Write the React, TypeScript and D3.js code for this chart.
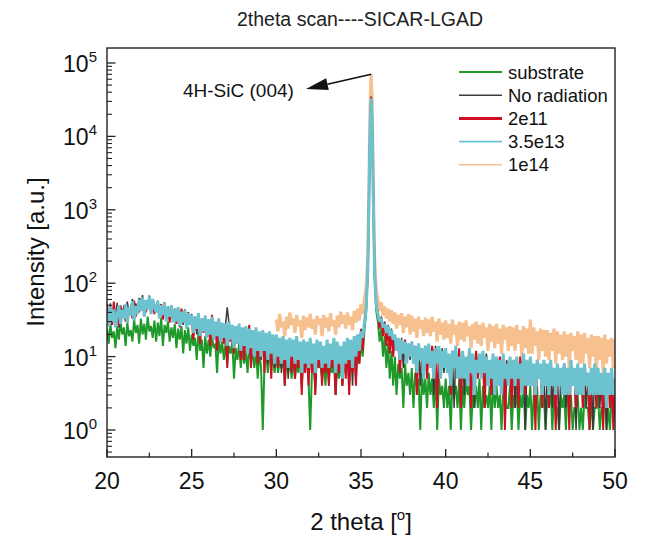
import React from "react";
import * as d3 from "d3";

// ---- scan angles (2θ, degrees): instrument step grid ----
const anglesLow = d3.range(200, 354).map((i) => i / 10); // 20.0 … 35.3
const anglesPeak = d3.range(0, 11).map((i) => +(35.35 + i * 0.05).toFixed(2)); // 35.35 … 35.85
const anglesHigh = d3.range(359, 501).map((i) => i / 10); // 35.9 … 50.0
const angles = [...anglesLow, ...anglesPeak, ...anglesHigh];
const orangeStart = 30.0;

// ---- intensities (a.u.) ----
const substrate = [
  24, 15, 28, 18, 22, 13, 26, 17, 30, 20,
  25, 14, 29, 19, 23, 16, 32, 21, 27, 15,
  33, 20, 28, 17, 35, 22, 26, 18, 31, 16,
  29, 19, 34, 14, 27, 21, 30, 16, 25, 18,
  28, 13, 24, 17, 26, 11, 23, 15, 25, 12,
  20, 14, 18, 9, 22, 12, 17, 7, 19, 11,
  17, 10, 19, 13, 15, 6, 18, 11, 16, 9,
  15, 8, 14, 11, 16, 5, 13, 9, 15, 7,
  13, 8, 12, 6, 14, 9, 11, 7, 13, 5,
  12, 7, 1, 8, 11, 6, 12, 9, 10, 6,
  11, 6, 9, 7, 10, 4, 11, 6, 9, 5,
  10, 5, 8, 6, 11, 4, 9, 7, 10, 5,
  1, 6, 9, 4, 10, 7, 8, 5, 9, 4,
  10, 5, 8, 6, 9, 3, 8, 5, 10, 4,
  9, 6, 11, 4, 10, 7, 12, 5, 13, 8,
  16, 10, 22, 38,
  70, 130, 600, 3500, 15000, 28000, 15000, 3500, 600, 130, 70,
  42,
  30, 16, 24, 10, 19, 7, 15, 5, 12, 4,
  10, 3, 8, 5, 7, 2, 8, 4, 6, 3,
  7, 2, 6, 4, 5, 1, 6, 3, 5, 2,
  6, 3, 5, 2, 6, 1, 5, 3, 4, 2,
  5, 2, 4, 1, 5, 3, 4, 2, 5, 1,
  4, 2, 5, 3, 4, 1, 3, 2, 4, 2,
  5, 1, 4, 2, 3, 2, 4, 1, 5, 2,
  4, 2, 3, 1, 4, 3, 2, 2, 4, 1,
  3, 2, 4, 1, 3, 2, 4, 1, 3, 2,
  4, 1, 3, 2, 4, 1, 3, 2, 3, 1,
  3, 2, 4, 1, 3, 2, 2, 1, 3, 2,
  3, 1, 4, 2, 3, 1, 2, 2, 3, 1,
  2, 1, 3, 2, 2, 1, 3, 1, 2, 2,
  3, 1, 2, 2, 3, 1, 2, 1, 3, 2,
  2,
];

const noRadiation = [
  47, 29, 53, 27, 41, 33, 54, 25, 45, 36,
  50, 34, 56, 38, 45, 61, 31, 53, 43, 63,
  50, 69, 42, 58, 48, 68, 44, 60, 52, 45,
  58, 40, 51, 44, 55, 33, 48, 41, 50, 35,
  45, 31, 47, 32, 42, 27, 44, 29, 40, 32,
  38, 25, 35, 20, 39, 23, 33, 27, 36, 21,
  32, 20, 34, 17, 29, 23, 33, 16, 28, 22,
  27, 47, 29, 18, 26, 13, 25, 19, 28, 15,
  24, 15, 25, 11, 22, 17, 21, 10, 24, 14,
  20, 9, 22, 12, 19, 8, 21, 13, 18, 7,
  19, 10, 17, 6, 18, 9, 16, 5, 17, 11,
  15, 6, 18, 8, 14, 4, 16, 7, 15, 5,
  17, 7, 14, 3, 16, 8, 15, 5, 13, 6,
  16, 4, 14, 8, 17, 3, 15, 7, 13, 4,
  15, 6, 17, 8, 16, 4, 18, 9, 19, 10,
  24, 17, 30, 48,
  85, 160, 750, 4500, 20000, 35000, 20000, 4500, 750, 160, 85,
  52,
  40, 27, 35, 22, 30, 18, 27, 16, 24, 14,
  19, 13, 17, 10, 18, 7, 16, 12, 15, 9,
  16, 10, 14, 11, 15, 4, 13, 9, 14, 8,
  13, 9, 12, 3, 14, 8, 11, 9, 13, 6,
  12, 8, 10, 7, 11, 2, 12, 7, 9, 6,
  11, 3, 9, 7, 12, 6, 10, 2, 11, 7,
  10, 6, 9, 2, 11, 7, 8, 5, 10, 3,
  9, 6, 8, 5, 10, 2, 9, 6, 8, 5,
  8, 2, 9, 6, 7, 5, 10, 1, 8, 6,
  9, 6, 7, 2, 8, 5, 7, 6, 8, 1,
  7, 5, 8, 2, 6, 5, 7, 1, 6, 4,
  7, 2, 6, 5, 8, 4, 6, 1, 7, 4,
  6, 4, 7, 2, 5, 4, 6, 1, 7, 3,
  6, 2, 5, 4, 6, 1, 5, 3, 6, 2,
  3,
];

const dose2e11 = [
  52, 30, 45, 27, 56, 33, 40, 26, 50, 35,
  42, 30, 50, 36, 46, 33, 58, 35, 48, 40,
  62, 44, 55, 40, 52, 60, 45, 55, 38, 50,
  46, 37, 52, 32, 47, 40, 45, 29, 48, 35,
  41, 28, 39, 25, 45, 30, 37, 24, 40, 31,
  34, 17, 32, 23, 36, 15, 30, 21, 33, 18,
  29, 14, 37, 20, 26, 12, 30, 18, 25, 15,
  24, 7, 27, 16, 23, 11, 25, 15, 22, 9,
  22, 9, 20, 13, 27, 7, 19, 12, 21, 8,
  19, 10, 20, 6, 18, 11, 20, 5, 17, 9,
  17, 7, 16, 10, 17, 4, 15, 8, 16, 6,
  14, 5, 17, 7, 13, 3, 15, 6, 14, 4,
  16, 6, 13, 3, 15, 7, 14, 4, 12, 6,
  15, 4, 13, 7, 16, 3, 14, 6, 12, 4,
  14, 5, 16, 3, 15, 6, 17, 4, 18, 8,
  23, 12, 29, 46,
  82, 155, 720, 4200, 19000, 34000, 19000, 4200, 720, 155, 82,
  51,
  39, 24, 34, 19, 29, 14, 26, 11, 23, 10,
  18, 12, 16, 6, 15, 11, 17, 9, 14, 10,
  15, 9, 13, 3, 14, 10, 12, 8, 13, 5,
  12, 8, 14, 9, 11, 2, 13, 7, 10, 8,
  11, 7, 9, 3, 12, 8, 10, 6, 13, 2,
  10, 6, 8, 9, 11, 2, 9, 7, 12, 5,
  9, 7, 11, 2, 10, 6, 8, 3, 9, 7,
  8, 6, 10, 7, 9, 1, 7, 6, 9, 2,
  9, 5, 8, 2, 10, 6, 7, 3, 8, 6,
  8, 5, 7, 1, 9, 6, 7, 2, 8, 5,
  7, 2, 8, 5, 6, 1, 7, 4, 6, 5,
  8, 4, 6, 1, 7, 5, 6, 2, 7, 4,
  6, 2, 7, 4, 6, 1, 5, 4, 7, 2,
  6, 4, 5, 1, 6, 3, 5, 2, 6, 1,
  4,
];

const dose3p5e13 = [
  42, 26, 48, 30, 44, 25, 38, 50, 28, 43,
  33, 52, 29, 47, 36, 57, 31, 49, 38, 60,
  42, 64, 35, 59, 44, 66, 38, 61, 47, 40,
  57, 33, 50, 37, 54, 30, 47, 35, 50, 29,
  44, 30, 47, 26, 41, 29, 43, 24, 39, 27,
  37, 21, 35, 24, 39, 19, 33, 22, 36, 18,
  32, 20, 35, 17, 30, 19, 33, 16, 29, 18,
  28, 14, 30, 17, 27, 13, 26, 15, 28, 12,
  25, 14, 26, 11, 24, 13, 23, 10, 25, 12,
  22, 10, 23, 12, 21, 9, 22, 11, 20, 8,
  20, 10, 18, 8, 19, 9, 17, 7, 18, 10,
  17, 8, 19, 9, 16, 6, 17, 8, 16, 7,
  18, 8, 15, 6, 17, 9, 16, 7, 14, 8,
  17, 7, 15, 9, 18, 6, 16, 8, 14, 5,
  16, 8, 18, 9, 17, 7, 19, 10, 20, 12,
  22, 18, 28, 45,
  80, 150, 700, 4000, 18000, 33000, 18000, 4000, 700, 150, 80,
  50,
  38, 30, 33, 25, 28, 21, 26, 19, 23, 17,
  20, 12, 18, 9, 17, 11, 16, 8, 15, 10,
  16, 8, 14, 6, 15, 9, 13, 5, 14, 8,
  15, 7, 12, 5, 13, 8, 14, 5, 12, 7,
  13, 6, 11, 4, 12, 7, 14, 5, 10, 5,
  12, 5, 10, 4, 13, 6, 11, 3, 9, 6,
  11, 5, 12, 6, 10, 4, 9, 5, 11, 3,
  10, 4, 9, 3, 11, 5, 8, 4, 10, 5,
  9, 4, 10, 5, 8, 3, 11, 4, 9, 4,
  10, 4, 8, 3, 9, 5, 8, 3, 9, 4,
  8, 3, 9, 4, 7, 3, 8, 4, 7, 3,
  8, 3, 7, 3, 9, 4, 7, 3, 8, 3,
  7, 3, 8, 4, 6, 3, 7, 3, 8, 3,
  7, 3, 6, 3, 7, 2, 6, 3, 7, 3,
  5,
];

// 1e14 starts at 30.0°
const dose1e14 = [
  32, 22, 38, 25, 30, 19, 35, 24, 40, 27,
  33, 21, 37, 26, 31, 18, 36, 23, 34, 25,
  38, 24, 32, 20, 36, 27, 33, 19, 37, 25,
  34, 22, 39, 26, 31, 20, 36, 25, 41, 28,
  37, 24, 40, 27, 35, 23, 42, 29, 45, 31,
  52, 38, 60, 85,
  130, 220, 1000, 7000, 35000, 70000, 35000, 7000, 1000, 220, 130,
  80,
  60, 42, 55, 36, 48, 33, 45, 30, 43, 28,
  40, 24, 37, 27, 39, 21, 35, 25, 38, 20,
  36, 22, 33, 18, 35, 24, 31, 19, 34, 21,
  32, 19, 35, 22, 30, 16, 33, 20, 29, 17,
  31, 18, 28, 15, 32, 20, 27, 14, 30, 17,
  29, 16, 31, 19, 26, 13, 28, 17, 30, 15,
  27, 14, 29, 18, 25, 12, 28, 16, 26, 13,
  28, 15, 24, 11, 27, 17, 25, 12, 26, 14,
  25, 12, 27, 15, 23, 10, 26, 13, 24, 11,
  32, 11, 25, 14, 22, 9, 24, 12, 23, 10,
  23, 9, 21, 12, 24, 8, 22, 11, 20, 9,
  22, 10, 20, 7, 21, 12, 19, 9, 22, 8,
  20, 8, 21, 11, 18, 7, 20, 10, 19, 6,
  19, 9, 18, 6, 20, 8, 17, 10, 18, 7,
  17,
];

const seriesNames = ["substrate", "No radiation", "2e11", "3.5e13", "1e14"];
const seriesColors = ["#1f9a2a", "#3a3a3a", "#cf1020", "#6cc2cf", "#f6c08f"];
const legendWidths = [2, 1.4, 3, 1.6, 1.6];
const plotWidths = [2, 1.5, 2, 3, 3.2];
const xTicks = [20, 25, 30, 35, 40, 45, 50];
const yExponents = [0, 1, 2, 3, 4, 5];

const W = 649;
const H = 542;
const M = { left: 107, right: 615, top: 48, bottom: 457 };
const FONT = "'Liberation Sans', Arial, Helvetica, sans-serif";

export default function App() {
  const x = d3.scaleLinear().domain([20, 50]).range([M.left, M.right]);
  const y = d3
    .scaleLog()
    .domain([Math.pow(10, -0.368), Math.pow(10, 5.204)])
    .range([M.bottom, M.top]);

  const makePts = (vals: number[], startAngle: number) => {
    const i0 = angles.findIndex((a) => Math.abs(a - startAngle) < 1e-6);
    const n = Math.min(vals.length, angles.length - i0);
    return d3.range(n).map((k) => [angles[i0 + k], vals[k]] as [number, number]);
  };

  const line = d3
    .line<[number, number]>()
    .x((d) => x(d[0]))
    .y((d) => y(d[1]));

  const data = [
    makePts(substrate, 20),
    makePts(noRadiation, 20),
    makePts(dose2e11, 20),
    makePts(dose3p5e13, 20),
    makePts(dose1e14, orangeStart),
  ];
  const drawOrder = [4, 0, 1, 2, 3];

  const yMinor: number[] = [];
  for (let e = -1; e <= 5; e++) {
    for (let m = 2; m <= 9; m++) {
      const v = m * Math.pow(10, e);
      const [lo, hi] = y.domain();
      if (v >= lo && v <= hi) yMinor.push(v);
    }
  }
  const xMinor = d3.range(22.5, 50, 5);

  const legendX0 = 459;
  const legendX1 = 502;
  const legendY0 = 72;
  const legendDy = 23.2;

  const peakX = x(35.6);
  const peakY = y(70000);
  const arrowTip: [number, number] = [306, 89];
  const ang = Math.atan2(arrowTip[1] - peakY, arrowTip[0] - peakX);
  const headLen = 22;
  const headW = 6;
  const bx = arrowTip[0] - headLen * Math.cos(ang);
  const by = arrowTip[1] - headLen * Math.sin(ang);
  const px = -Math.sin(ang) * headW;
  const py = Math.cos(ang) * headW;

  return (
    <svg width={W} height={H} style={{ display: "block", position: "absolute", left: 0, top: 0 }} fontFamily={FONT}>
      <rect x={0} y={0} width={W} height={H} fill="#fff" />
      <defs>
        <clipPath id="plotclip">
          <rect x={M.left} y={M.top} width={M.right - M.left} height={M.bottom - M.top} />
        </clipPath>
      </defs>

      <text x={360} y={26} textAnchor="middle" fontSize={19.5} fill="#222">
        2theta scan----SICAR-LGAD
      </text>

      <g clipPath="url(#plotclip)">
        {drawOrder.map((i) => (
          <path
            key={seriesNames[i]}
            d={line(data[i]) || ""}
            fill="none"
            stroke={seriesColors[i]}
            strokeWidth={plotWidths[i]}
            strokeLinejoin="miter"
            strokeMiterlimit={2}
          />
        ))}
      </g>

      <rect
        x={M.left}
        y={M.top}
        width={M.right - M.left}
        height={M.bottom - M.top}
        fill="none"
        stroke="#222"
        strokeWidth={1.4}
      />

      {xTicks.map((t) => (
        <g key={"xt" + t}>
          <line x1={x(t)} x2={x(t)} y1={M.bottom} y2={M.bottom - 8} stroke="#222" strokeWidth={1.3} />
          <text x={x(t)} y={489} textAnchor="middle" fontSize={23} fill="#111">
            {t}
          </text>
        </g>
      ))}
      {xMinor.map((t) => (
        <line key={"xm" + t} x1={x(t)} x2={x(t)} y1={M.bottom} y2={M.bottom - 4.5} stroke="#222" strokeWidth={1.2} />
      ))}

      {yExponents.map((e) => {
        const v = Math.pow(10, e);
        return (
          <g key={"yt" + e}>
            <line x1={M.left} x2={M.left + 8.5} y1={y(v)} y2={y(v)} stroke="#222" strokeWidth={1.3} />
            <text x={97} y={y(v) + 9} textAnchor="end" fontSize={23} fill="#111">
              <tspan>10</tspan>
              <tspan fontSize={15} dy={-10}>
                {e}
              </tspan>
            </text>
          </g>
        );
      })}
      {yMinor.map((v, i) => (
        <line key={"ym" + i} x1={M.left} x2={M.left + 5} y1={y(v)} y2={y(v)} stroke="#222" strokeWidth={1.1} />
      ))}

      <text x={361} y={530} textAnchor="middle" fontSize={24} fill="#111">
        <tspan>2 theta [</tspan>
        <tspan fontSize={15} dy={-10}>
          o
        </tspan>
        <tspan dy={10}>]</tspan>
      </text>
      <text transform={`translate(44, 252) rotate(-90)`} textAnchor="middle" fontSize={24} fill="#111">
        Intensity [a.u.]
      </text>

      {seriesNames.map((name, i) => (
        <g key={"lg" + name}>
          <line
            x1={legendX0}
            x2={legendX1}
            y1={legendY0 + i * legendDy}
            y2={legendY0 + i * legendDy}
            stroke={seriesColors[i]}
            strokeWidth={legendWidths[i]}
          />
          <text x={legendX1 + 6} y={legendY0 + i * legendDy + 6.5} fontSize={18.5} fill="#111">
            {name}
          </text>
        </g>
      ))}

      <text x={183} y={97} fontSize={19} fill="#111">
        4H-SiC (004)
      </text>
      <line x1={peakX} y1={peakY} x2={bx} y2={by} stroke="#111" strokeWidth={1.6} />
      <polygon points={`${arrowTip[0]},${arrowTip[1]} ${bx + px},${by + py} ${bx - px},${by - py}`} fill="#111" />
    </svg>
  );
}
